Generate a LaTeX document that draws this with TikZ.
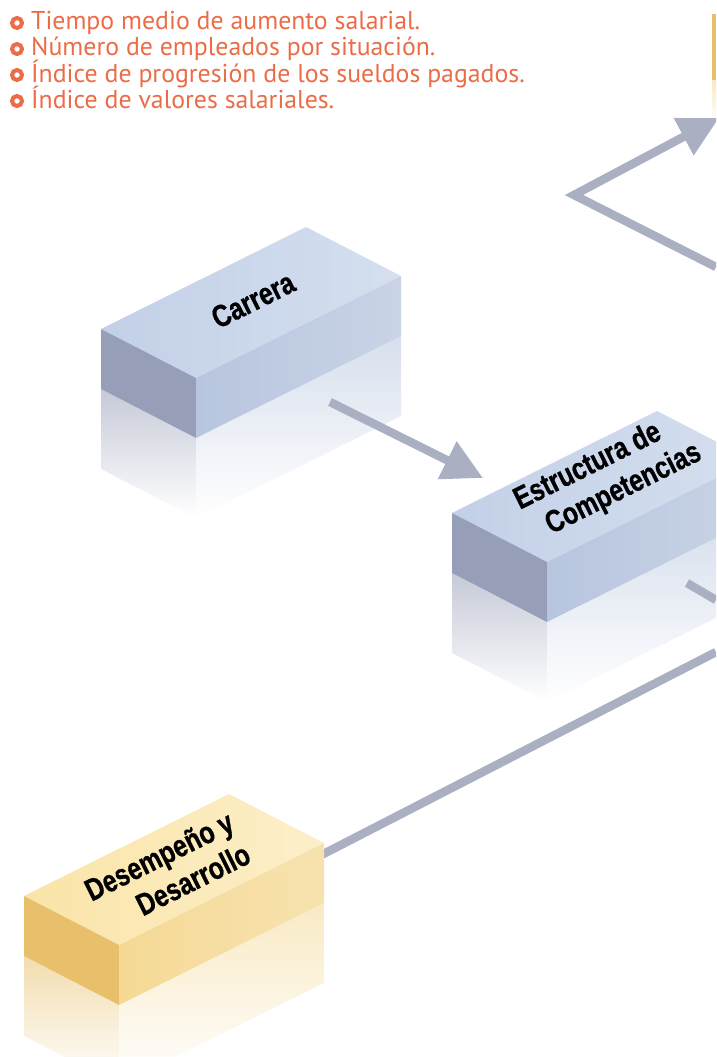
\documentclass[tikz,border=0pt]{standalone}
\usepackage{fontspec}
\setmainfont{PT Sans}
\newfontfamily\boxfont{Liberation Sans}[FakeStretch=0.8, BoldFeatures={FakeStretch=0.8, FakeBold=0.8}]
\usetikzlibrary{arrows.meta}
\definecolor{bulorange}{HTML}{EB6C47}
\definecolor{linegray}{HTML}{AAAFC1}
\definecolor{blueTopA}{HTML}{C2D0E7}
\definecolor{blueTopB}{HTML}{D5DFEF}
\definecolor{blueLeft}{HTML}{979EB7}
\definecolor{blueFront}{HTML}{B7C5DE}
\definecolor{yelTopA}{HTML}{FAE4A8}
\definecolor{yelTopB}{HTML}{FCEFC9}
\definecolor{yelLeft}{HTML}{E8C06C}
\definecolor{yelFront}{HTML}{F5D995}
\newcommand{\boxcoords}[3]{%
  \path (#2,#3) coordinate (#1F) ++(205,-102) coordinate (#1R) ++(-95,-49) coordinate (#1B) ++(-205,102) coordinate (#1S);
  \path (#1F) ++(0,60) coordinate (#1Fd) (#1R) ++(0,60) coordinate (#1Rd) (#1S) ++(0,60) coordinate (#1Sd);
  \path (#1Fd) ++(0,80) coordinate (#1Fr) (#1Rd) ++(0,80) coordinate (#1Rr) (#1Sd) ++(0,80) coordinate (#1Sr);
}
\newcommand{\boxreflect}[3]{%
  \shade[top color=#2!55!white, bottom color=white] (#1Sd) -- (#1Fd) -- (#1Fr) -- (#1Sr) -- cycle;
  \shade[top color=#3!55!white, bottom color=white] (#1Fd) -- (#1Rd) -- (#1Rr) -- (#1Fr) -- cycle;
}
\newcommand{\boxfaces}[5]{%
  \shade[left color=#2, right color=#3] (#1F) -- (#1R) -- (#1B) -- (#1S) -- cycle;
  \fill[#4] (#1S) -- (#1F) -- (#1Fd) -- (#1Sd) -- cycle;
  \shade[left color=#5, right color=#5!75!white] (#1F) -- (#1R) -- (#1Rd) -- (#1Fd) -- cycle;
}
\tikzset{
  conn/.style={draw=linegray, line width=8.5pt},
  arr/.style={conn, -{Triangle[length=40pt,width=40pt]}},
  bullet/.style={circle, draw=bulorange, line width=4pt, inner sep=0pt, minimum size=10pt},
  bultext/.style={anchor=base west, text=bulorange, inner sep=0pt, font=\fontsize{25.8}{26}\selectfont},
  boxlabel/.style={align=center, rotate=26.5, inner sep=0pt, font=\boxfont\bfseries\fontsize{31}{36}\selectfont}
}
\begin{document}
\begin{tikzpicture}[x=1pt,y=-1pt]
\useasboundingbox (0,0) rectangle (716,1057);
\clip (0,0) rectangle (716,1057);
% bullet list
\foreach \i/\yy/\txt in {1/30/{Tiempo medio de aumento salarial.},
                          2/56/{Número de empleados por situación.},
                          3/82/{Índice de progresión de los sueldos pagados.},
                          4/108/{Índice de valores salariales.}}{
  \node[bullet] (b\i) at (17,\yy-7) {};
  \node[bultext] (t\i) at (31,\yy) {\txt};
}
% boxes geometry
\boxcoords{car}{196}{378}
\boxcoords{est}{547}{562}
\boxcoords{des}{119}{945}
% reflections
\boxreflect{car}{blueLeft}{blueFront}
\boxreflect{est}{blueLeft}{blueFront}
\boxreflect{des}{yelLeft}{yelFront}
% partial yellow box top right
\fill[yelLeft] (712,14) rectangle (716,80);
\shade[top color=yelFront!60!white, bottom color=white] (712,80) rectangle (716,120);
% connector end points
\coordinate (a1s) at (330,402);
\coordinate (a1e) at (483,478);
\coordinate (p1) at (716,267);
\coordinate (p2) at (574,195);
\coordinate (p3) at (719,118);
\coordinate (s1) at (687,583);
\coordinate (s2) at (716,600);
\coordinate (l1) at (300,866);
\coordinate (l2) at (716,652);
% connectors
\draw[arr] (a1s) -- (a1e);
\draw[arr] (p1) -- (p2) -- (p3);
\draw[conn] (s1) -- (s2);
\draw[conn] (l1) -- (l2);
% box faces
\boxfaces{car}{blueTopA}{blueTopB}{blueLeft}{blueFront}
\boxfaces{est}{blueTopA}{blueTopB}{blueLeft}{blueFront}
\boxfaces{des}{yelTopA}{yelTopB}{yelLeft}{yelFront}
% labels
\node[boxlabel] (lcar) at (253,300) {Carrera};
\node[boxlabel] (lest) at (596,483) {Estructura de\\\hspace*{44pt}Competencias};
\node[boxlabel] (ldes) at (167,872) {Desempeño y\\\hspace*{40pt}Desarrollo};
\end{tikzpicture}
\end{document}
